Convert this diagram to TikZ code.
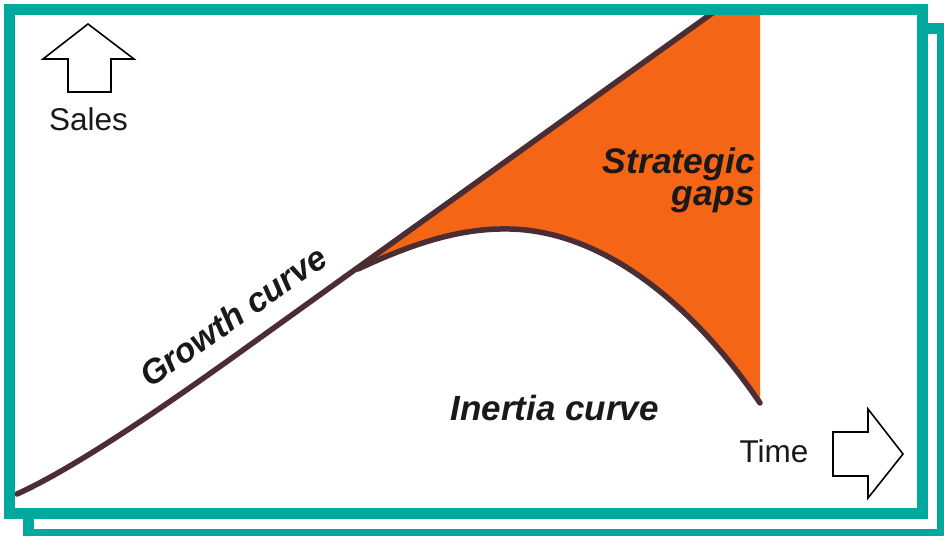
\documentclass[tikz,border=0pt]{standalone}
\usepackage{fontspec}
\setmainfont{Liberation Sans}
\definecolor{teal}{HTML}{00A99D}
\definecolor{gaporange}{HTML}{F46516}
\definecolor{curvebrown}{HTML}{4B2D33}
\begin{document}
\begin{tikzpicture}[x=1pt,y=-1pt,
  framebar/.style={draw=teal,line width=11pt},
  curveline/.style={draw=curvebrown,line width=5.5pt,line cap=round,line join=round},
  bigarrow/.style={draw=black,line width=1.6pt,fill=white,line join=miter},
  plainlabel/.style={inner sep=0pt,font=\fontsize{31.5}{36}\selectfont,text=black!90},
  boldlabel/.style={inner sep=0pt,font=\fontsize{34}{38}\selectfont\bfseries\itshape,text=black!90}]
\useasboundingbox (0,0) rectangle (944,535);
\clip (0,0) rectangle (944,535);
% shadow frame
\draw[framebar] (28.5,28.5) rectangle (942.5,534.5);
% main frame fill
\fill[white] (9.5,9.5) rectangle (922.5,513.5);
% strategic gap area
\fill[gaporange] (358,269) -- (718,9) -- (760,9) -- (760,403)
  .. controls (690,300) and (600,231) .. (510,229)
  .. controls (465,228) and (420,240) .. (358,269) -- cycle;
% curves
\coordinate (gstart) at (17,494);
\coordinate (gbend) at (250,345);
\coordinate (gend) at (718,9);
\coordinate (tip) at (358,269);
\coordinate (peak) at (510,229);
\coordinate (iend) at (760,403);
\draw[curveline] (gstart) .. controls (70,470) and (150,417) .. (gbend) -- (gend);
\draw[curveline] (tip) .. controls (420,240) and (465,228) .. (peak)
  .. controls (600,231) and (690,300) .. (iend);
% main frame stroke
\draw[framebar] (9.5,9.5) rectangle (922.5,513.5);
% arrows
\draw[bigarrow] (88,24) -- (134,59) -- (111,59) -- (111,92) -- (68,92) -- (68,59) -- (43,59) -- cycle;
\draw[bigarrow] (833,432) -- (868,432) -- (868,409) -- (903,454) -- (868,498) -- (868,476) -- (833,476) -- cycle;
% labels
\node[plainlabel,anchor=base] (sales) at (88.5,130) {Sales};
\node[plainlabel,anchor=base] (time) at (774,462) {Time};
\node[boldlabel,anchor=base,font=\fontsize{35}{38}\selectfont\bfseries\itshape] (inertia) at (554.5,420) {Inertia curve};
\node[boldlabel,anchor=base east,font=\fontsize{35.5}{38}\selectfont\bfseries\itshape] (strat) at (755,173) {Strategic};
\node[boldlabel,anchor=base east,font=\fontsize{35.5}{38}\selectfont\bfseries\itshape] (gaps) at (755,205) {gaps};
\node[boldlabel,anchor=base,rotate=35] (growth) at (240,326) {Growth curve};
\end{tikzpicture}
\end{document}
